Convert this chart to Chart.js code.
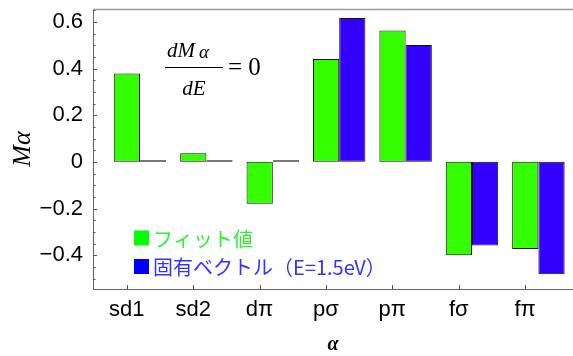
<!DOCTYPE html>
<html><head><meta charset="utf-8">
<script src="https://cdn.jsdelivr.net/npm/chart.js@4"></script>
<style>html,body{margin:0;padding:0;background:#fff;overflow:hidden}#wrap{width:573px;height:356px;position:relative}</style>
</head><body><div id="wrap"><canvas id="c" width="573" height="356"></canvas></div>
<script>
const categories = ['sd1', 'sd2', 'dπ', 'pσ', 'pπ', 'fσ', 'fπ'];
const fitValues = [0.379, 0.037, -0.18, 0.441, 0.563, -0.40, -0.374];
const eigenValues = [0.007, 0.007, 0.007, 0.616, 0.501, -0.359, -0.482];
const yTickValues = [-0.4, -0.2, 0, 0.2, 0.4, 0.6];
const seriesNames = ['フィット値', '固有ベクトル（E=1.5eV）'];

const X_MIN = -0.708, X_MAX = 6.521, LABEL_SHIFT = 0.2;

function toPoints(arr) { return arr.map((v, i) => ({x: i, y: v})); }

const framePlugin = {
  id: 'frame',
  afterDatasetsDraw(chart) {
    const {ctx, chartArea: a, scales} = chart;
    const y = scales.y, xl = scales.xl;
    ctx.save();
    ctx.strokeStyle = '#9a9a9a'; ctx.lineWidth = 1.5;
    ctx.beginPath(); ctx.moveTo(a.left, a.top + 0.5); ctx.lineTo(a.right, a.top + 0.5); ctx.stroke();
    ctx.strokeStyle = '#555'; ctx.lineWidth = 1;
    for (let k = Math.ceil(y.min / 0.05); k <= Math.floor(y.max / 0.05); k++) {
      const p = Math.round(y.getPixelForValue(k * 0.05)) + 0.5;
      const len = (k % 4 === 0) ? 4 : 2.5;
      ctx.beginPath(); ctx.moveTo(a.left, p); ctx.lineTo(a.left + len, p); ctx.stroke();
    }
    xl.ticks.forEach(t => {
      const px = Math.round(xl.getPixelForValue(t.value)) + 0.5;
      ctx.beginPath(); ctx.moveTo(px, a.bottom); ctx.lineTo(px, a.bottom - 4); ctx.stroke();
    });
    ctx.restore();
  }
};

const legendPlugin = {
  id: 'customLegend',
  afterDraw(chart) {
    const ctx = chart.ctx;
    const items = [
      {name: seriesNames[0], box: '#00ff00', text: '#33ee33', y: 238},
      {name: seriesNames[1], box: '#0000ff', text: '#3333ff', y: 266.5}
    ];
    ctx.save();
    items.forEach(it => {
      ctx.fillStyle = it.box;
      ctx.fillRect(134, it.y - 7.5, 15, 15);
      ctx.fillStyle = it.text;
      ctx.font = '20px "Noto Sans CJK JP"';
      ctx.textBaseline = 'middle';
      ctx.textAlign = 'left';
      ctx.fillText(it.name, 153, it.y + 1);
    });
    ctx.restore();
  }
};

const formulaPlugin = {
  id: 'formula',
  afterDraw(chart) {
    const ctx = chart.ctx;
    ctx.save();
    ctx.fillStyle = '#000';
    ctx.textBaseline = 'alphabetic';
    ctx.textAlign = 'left';
    ctx.font = 'italic 21px "Liberation Serif"';
    ctx.fillText('dM', 167, 57);
    ctx.font = 'italic 19px "Liberation Serif"';
    ctx.fillText('α', 199, 58);
    ctx.strokeStyle = '#000'; ctx.lineWidth = 1;
    ctx.beginPath(); ctx.moveTo(165, 67.5); ctx.lineTo(223, 67.5); ctx.stroke();
    ctx.font = 'italic 21px "Liberation Serif"';
    ctx.textAlign = 'center';
    ctx.fillText('dE', 194, 95);
    ctx.textAlign = 'left';
    ctx.font = '25px "Liberation Serif"';
    ctx.fillText('= 0', 228, 75);
    ctx.restore();
  }
};

new Chart(document.getElementById('c'), {
  type: 'bar',
  data: {
    datasets: [
      {label: seriesNames[0], data: toPoints(fitValues), backgroundColor: '#33ff00', borderColor: '#111', borderWidth: 1, borderSkipped: false},
      {label: seriesNames[1], data: toPoints(eigenValues), backgroundColor: '#3300ff', borderColor: '#111', borderWidth: 1, borderSkipped: false}
    ]
  },
  options: {
    responsive: false,
    devicePixelRatio: 1,
    animation: false,
    layout: {padding: {top: 9, right: 0, bottom: 0, left: 0}},
    categoryPercentage: 0.79,
    barPercentage: 1.0,
    plugins: {legend: {display: false}, tooltip: {enabled: false}},
    scales: {
      x: {
        type: 'linear', display: false, offset: false, min: X_MIN, max: X_MAX,
        ticks: {stepSize: 1, includeBounds: false}
      },
      xl: {
        type: 'linear', position: 'bottom', offset: false, min: X_MIN + LABEL_SHIFT, max: X_MAX + LABEL_SHIFT,
        grid: {display: false, drawTicks: false, offset: false},
        border: {display: true, color: '#666', width: 1},
        ticks: {
          stepSize: 1, includeBounds: false, padding: 8, color: '#000',
          font: {family: '"Liberation Sans"', size: 22},
          maxRotation: 0, autoSkip: false,
          callback: v => (Number.isInteger(v) && categories[v] !== undefined) ? categories[v] : ''
        },
        title: {display: true, text: 'α', color: '#000', font: {family: '"Liberation Serif"', size: 20, style: 'italic', weight: 'bold', lineHeight: 1}, padding: {top: 0, bottom: 1}},
        afterFit: s => { s.height = 67; s.paddingLeft = 0; s.paddingRight = 0; }
      },
      y: {
        type: 'linear', min: -0.545, max: 0.655,
        grid: {display: false, drawTicks: false},
        border: {display: true, color: '#666', width: 1},
        afterBuildTicks: s => { s.ticks = yTickValues.map(v => ({value: v})); },
        ticks: {
          padding: 10, color: '#000',
          font: {family: '"Liberation Sans"', size: 22},
          callback: v => v === 0 ? '0' : (v < 0 ? '\u2212' : '') + Math.abs(v).toFixed(1)
        },
        title: {display: true, text: 'Mα', color: '#000', font: {family: '"Liberation Serif"', size: 26, style: 'italic', lineHeight: 1.2}, padding: {top: 8, bottom: 0}},
        afterFit: s => { s.width = 93; s.paddingTop = 0; s.paddingBottom = 0; }
      }
    }
  },
  plugins: [framePlugin, legendPlugin, formulaPlugin]
});
</script>
</body></html>
